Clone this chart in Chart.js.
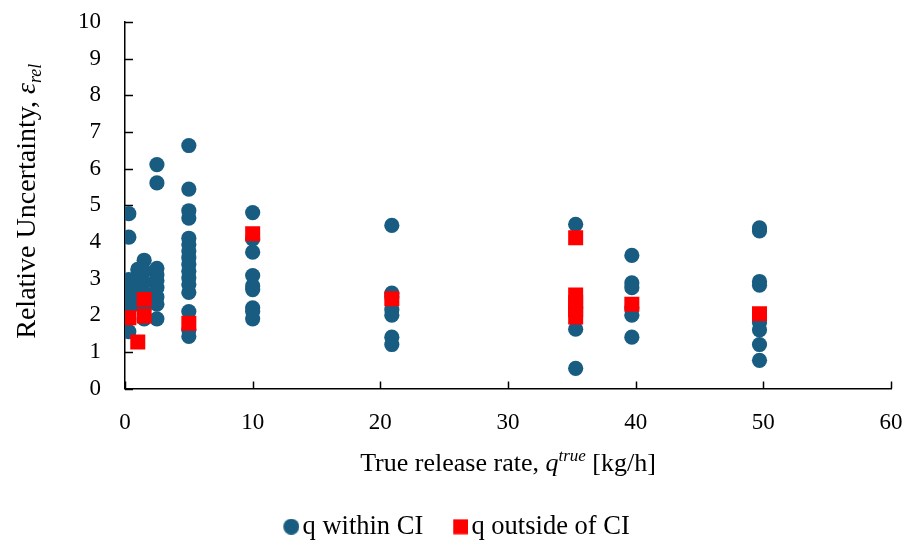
<!DOCTYPE html>
<html>
<head>
<meta charset="utf-8">
<script src="https://cdn.jsdelivr.net/npm/chart.js@4.4.1/dist/chart.umd.min.js"></script>
<style>
  html, body { margin: 0; padding: 0; background: #ffffff; }
  #wrap { width: 908px; height: 544px; }
</style>
</head>
<body>
<div id="wrap"><canvas id="c" width="908" height="544"></canvas></div>
<script>
// ---- data ----
const seriesNames = ['q within CI', 'q outside of CI'];
const withinX = [
  0.3,0.3,0.3,0.3,0.3,0.3,0.3,0.3,0.3,
  1.0,1.0,1.0,1.0,1.0,
  1.5,1.5,1.5,1.5,1.5,1.5,
  2.5,2.5,2.5,2.5,2.5,2.5,2.5,2.5,2.5,
  5.0,5.0,5.0,5.0,5.0,5.0,5.0,5.0,5.0,5.0,5.0,5.0,5.0,5.0,5.0,5.0,
  10.0,10.0,10.0,10.0,10.0,10.0,10.0,10.0,10.0,
  20.9,20.9,20.9,20.9,20.9,20.9,20.9,
  35.3,35.3,35.3,35.3,
  39.7,39.7,39.7,39.7,39.7,39.7,
  49.7,49.7,49.7,49.7,49.7,49.7,49.7,49.7
];
const withinY = [
  4.77,4.13,2.97,2.85,2.70,2.55,2.40,2.25,1.55,
  3.25,3.05,2.85,2.60,2.30,
  3.50,3.20,2.90,2.60,2.20,1.90,
  6.11,5.61,3.28,3.10,2.95,2.75,2.50,2.30,1.90,
  6.63,5.44,4.85,4.65,4.10,3.93,3.75,3.57,3.38,3.20,3.02,2.84,2.62,2.10,1.60,1.42,
  4.80,4.08,3.72,3.08,2.80,2.70,2.20,2.10,1.90,
  4.45,2.60,2.50,2.15,2.00,1.40,1.20,
  4.48,2.20,1.62,0.55,
  3.63,2.88,2.75,2.20,2.00,1.40,
  4.38,4.30,2.92,2.82,1.80,1.60,1.20,0.77
];
const outsideX = [0.3, 1.0, 1.5, 1.5, 5.0, 10.0, 20.9, 35.3, 35.3, 35.3, 35.3, 35.3, 39.7, 49.7];
const outsideY = [1.93, 1.27, 2.43, 1.98, 1.78, 4.22, 2.45, 4.11, 2.55, 2.35, 2.15, 1.95, 2.30, 2.04];
const xTicks = [0, 10, 20, 30, 40, 50, 60];
const yTicks = [0, 1, 2, 3, 4, 5, 6, 7, 8, 9, 10];

const BLUE = '#185d81';
const RED = '#ff0000';
const FONT = "'Liberation Serif', 'Times New Roman', serif";

function toPoints(xs, ys) { return xs.map((x, i) => ({ x: x, y: ys[i] })); }

// legend icons: transparent left margin so the symbol sits close to its text
function makeIcon(shape, color) {
  const c = document.createElement('canvas');
  c.width = 22; c.height = 16;
  const g = c.getContext('2d');
  g.fillStyle = color;
  if (shape === 'circle') { g.beginPath(); g.arc(14, 8, 8, 0, Math.PI * 2); g.fill(); }
  else { g.fillRect(7, 0.5, 15, 15); }
  return c;
}
const legendIcons = [makeIcon('circle', BLUE), makeIcon('rect', RED)];

function drawRich(ctx, segs, x0, y0) {
  let total = 0;
  segs.forEach(s => { ctx.font = s.font; s.w = ctx.measureText(s.t).width; total += s.w; });
  let x = x0 - total / 2;
  ctx.textAlign = 'left';
  ctx.textBaseline = 'alphabetic';
  segs.forEach(s => { ctx.font = s.font; ctx.fillText(s.t, x, y0 + (s.dy || 0)); x += s.w; });
}

const decor = {
  id: 'decor',
  beforeDatasetsDraw(chart) {
    const { ctx, scales: { x, y }, chartArea: a } = chart;
    ctx.save();
    ctx.strokeStyle = '#000';
    ctx.lineWidth = 1.5;
    x.ticks.forEach((t, i) => {
      const px = Math.round(x.getPixelForTick(i)) + 0.5;
      ctx.beginPath(); ctx.moveTo(px, a.bottom); ctx.lineTo(px, a.bottom - 7); ctx.stroke();
    });
    y.ticks.forEach((t, i) => {
      const py = Math.round(y.getPixelForTick(i)) + 0.5;
      ctx.beginPath(); ctx.moveTo(a.left, py); ctx.lineTo(a.left + 8, py); ctx.stroke();
    });
    ctx.restore();
  },
  afterDraw(chart) {
    const { ctx, chartArea: a } = chart;
    ctx.save();
    ctx.fillStyle = '#000';
    drawRich(ctx, [
      { t: 'True release rate, ', font: `26px ${FONT}` },
      { t: 'q', font: `italic 26px ${FONT}` },
      { t: 'true', font: `italic 17px ${FONT}`, dy: -10 },
      { t: ' [kg/h]', font: `26px ${FONT}` }
    ], (a.left + a.right) / 2, 471);
    ctx.translate(35, (a.top + a.bottom) / 2 - 4);
    ctx.rotate(-Math.PI / 2);
    drawRich(ctx, [
      { t: 'Relative Uncertainty, ', font: `28px ${FONT}` },
      { t: 'ε', font: `italic 28px ${FONT}` },
      { t: 'rel', font: `italic 18px ${FONT}`, dy: 6 }
    ], 0, 0);
    ctx.restore();
  }
};

new Chart(document.getElementById('c'), {
  type: 'scatter',
  data: {
    datasets: [
      {
        label: seriesNames[0],
        data: toPoints(withinX, withinY),
        backgroundColor: BLUE, borderColor: BLUE, borderWidth: 0,
        pointStyle: 'circle', pointRadius: 7.6, pointHoverRadius: 7.6,
        order: 1
      },
      {
        label: seriesNames[1],
        data: toPoints(outsideX, outsideY),
        backgroundColor: RED, borderColor: RED, borderWidth: 0,
        pointStyle: 'rect', pointRadius: 10.6, pointHoverRadius: 10.6,
        order: 0
      }
    ]
  },
  options: {
    responsive: false,
    animation: false,
    devicePixelRatio: 1,
    layout: { padding: { top: 22, right: 17, left: 26, bottom: -6 } },
    plugins: {
      tooltip: { enabled: false },
      legend: {
        position: 'bottom',
        labels: {
          usePointStyle: true,
          boxWidth: 2, boxHeight: 16,
          padding: 33,
          color: '#000',
          font: { family: FONT, size: 26.5 },
          sort: (a, b) => a.datasetIndex - b.datasetIndex,
          generateLabels(chart) {
            const items = Chart.defaults.plugins.legend.labels.generateLabels(chart);
            items.forEach(it => { it.pointStyle = legendIcons[it.datasetIndex]; });
            return items;
          }
        }
      }
    },
    scales: {
      x: {
        type: 'linear', min: 0, max: 60,
        afterBuildTicks(s) { s.ticks = xTicks.map(v => ({ value: v })); },
        afterFit(s) { s.height = 92; },
        grid: { drawOnChartArea: false, drawTicks: true, tickLength: 18, tickColor: 'rgba(0,0,0,0)' },
        border: { color: '#000', width: 1.5 },
        ticks: { color: '#000', font: { family: FONT, size: 23 }, padding: 3, maxRotation: 0 }
      },
      y: {
        type: 'linear', min: 0, max: 10,
        afterBuildTicks(s) { s.ticks = yTicks.map(v => ({ value: v })); },
        afterFit(s) { s.width = 99; },
        grid: { drawOnChartArea: false, drawTicks: true, tickLength: 21, tickColor: 'rgba(0,0,0,0)' },
        border: { color: '#000', width: 1.5 },
        ticks: { color: '#000', font: { family: FONT, size: 23 }, padding: 3 }
      }
    }
  },
  plugins: [decor]
});
</script>
</body>
</html>
